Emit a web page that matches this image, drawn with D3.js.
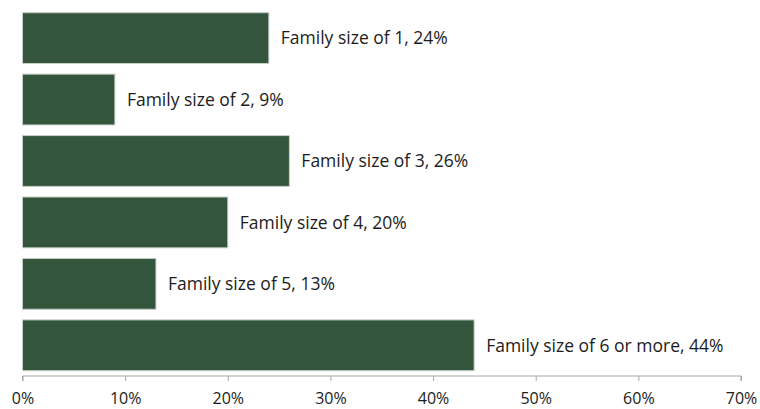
<!DOCTYPE html>
<html>
<head>
<meta charset="utf-8">
<script src="https://cdn.jsdelivr.net/npm/d3@7"></script>
<style>
  html, body { margin: 0; padding: 0; background: #ffffff; }
  svg { display: block; }
  text { font-family: "Open Sans", Lato, sans-serif; fill: #1c1c1c; }
</style>
</head>
<body>
<svg id="chart" width="760" height="409"></svg>
<script>
// Share of households by family size
const categories = ["Family size of 1", "Family size of 2", "Family size of 3",
                    "Family size of 4", "Family size of 5", "Family size of 6 or more"];
const shares = [24, 9, 26, 20, 13, 44];
const tickValues = [0, 10, 20, 30, 40, 50, 60, 70];

const width = 760, height = 409;
const svg = d3.select("#chart");

const x = d3.scaleLinear().domain([0, 70]).range([22.5, 741]);
const y = d3.scaleBand()
  .domain(categories)
  .range([7.4, 376])
  .paddingInner(0.173)
  .paddingOuter(0.0865);

const rows = categories.map((c, i) => ({ cat: c, v: shares[i] }));

// bars
svg.append("g").selectAll("rect")
  .data(rows)
  .join("rect")
  .attr("x", x(0))
  .attr("y", d => y(d.cat))
  .attr("width", d => x(d.v) - x(0))
  .attr("height", y.bandwidth())
  .attr("fill", "#33553b")
  .attr("stroke", "#c9cec9")
  .attr("stroke-width", 1);

// value labels
svg.append("g").selectAll("text")
  .data(rows)
  .join("text")
  .attr("x", d => x(d.v) + 12)
  .attr("y", d => y(d.cat) + y.bandwidth() / 2)
  .attr("dy", "0.36em")
  .attr("font-size", 17.5)
  .text(d => `${d.cat}, ${d.v}%`);

// x axis
const axis = svg.append("g")
  .attr("transform", `translate(0,${376})`)
  .call(d3.axisBottom(x)
    .tickValues(tickValues)
    .tickSize(5)
    .tickPadding(12)
    .tickFormat(d => d + "%"));
axis.select(".domain").attr("stroke", "#a6a6a6").attr("d", `M${x(0)},5V0H${x(70)}V5`);
axis.selectAll(".tick line").attr("stroke", "#a6a6a6");
axis.selectAll(".tick text")
  .attr("font-size", 16)
  .attr("fill", "#1c1c1c")
  .style("font-family", "'Open Sans', Lato, sans-serif");
</script>
</body>
</html>
